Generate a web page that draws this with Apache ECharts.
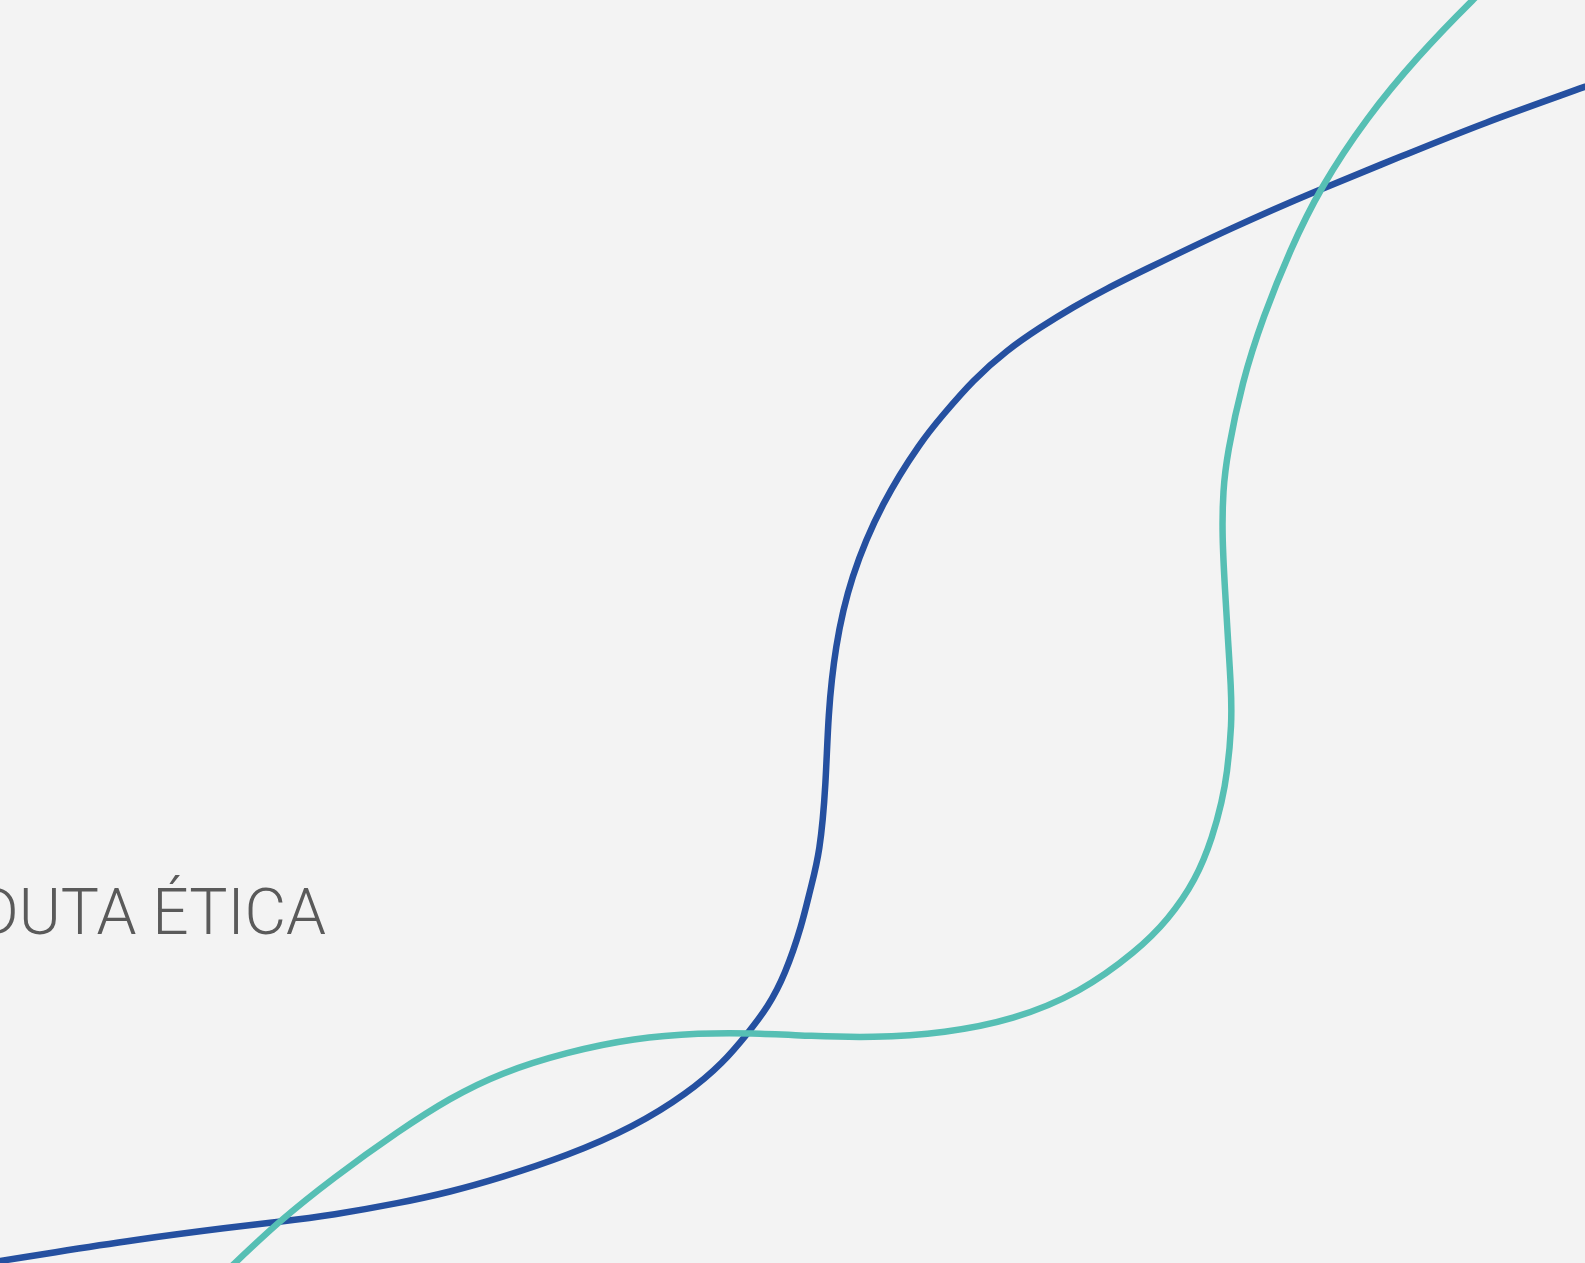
<!DOCTYPE html>
<html>
<head>
<meta charset="utf-8">
<script src="https://cdn.jsdelivr.net/npm/echarts@6/dist/echarts.min.js"></script>
<style>
html,body{margin:0;padding:0;background:#f3f3f3;}
#chart{width:1585px;height:1263px;}
</style>
</head>
<body>
<div id="chart"></div>
<script>
// Curve samples (x, y in chart units, y axis pointing down)
var blueCurve = [
  [-160,1287],[-80,1274],[0,1261],[50,1253],[133,1240],[233,1227],[277,1222],
  [333,1215],[400,1203],[450,1192],[500,1178],[567,1156],[634,1127],[688,1093],
  [723,1063],[748,1033],[768,1007],[785,975],[802,925],[810,890],[820,853],
  [826,784],[828,715],[835,647],[850,578],[882,502],[922,440],[942,416],
  [973,380],[1007,350],[1040,327.5],[1073,307],[1107,288.5],[1140,272],[1233,227],
  [1318,190],[1400,157],[1483,123],[1585,87],[1680,52],[1780,15]
];
var greenCurve = [
  [130,1365],[180,1315],[235,1263],[277,1223],[333,1178],[400,1130],[450,1098],
  [500,1073],[567,1052],[634,1038],[701,1033],[750,1033],[812,1036],[871,1038],
  [946,1033],[1013,1020],[1080,993],[1137,951],[1168,920],[1196,880],[1213,836],
  [1222,801],[1227,775],[1232,724],[1231,686],[1228,640],[1225,590],[1222,535],
  [1223,490],[1227,455],[1242,382],[1263,317],[1290,250],[1320,188],[1367,117],
  [1417,57],[1472,0],[1530,-55],[1590,-110]
];
var titleText = 'CONDUTA ÉTICA';

// smooth stroke through the data points (uniform cubic B-spline -> Bezier)
function splinePath(pts) {
  var d = '';
  for (var i = 0; i + 3 < pts.length; i++) {
    var p0 = pts[i], p1 = pts[i + 1], p2 = pts[i + 2], p3 = pts[i + 3];
    var b0 = [(p0[0] + 4 * p1[0] + p2[0]) / 6, (p0[1] + 4 * p1[1] + p2[1]) / 6];
    var b1 = [(2 * p1[0] + p2[0]) / 3, (2 * p1[1] + p2[1]) / 3];
    var b2 = [(p1[0] + 2 * p2[0]) / 3, (p1[1] + 2 * p2[1]) / 3];
    var b3 = [(p1[0] + 4 * p2[0] + p3[0]) / 6, (p1[1] + 4 * p2[1] + p3[1]) / 6];
    if (i === 0) d += 'M' + b0[0] + ' ' + b0[1];
    d += 'C' + b1[0] + ' ' + b1[1] + ' ' + b2[0] + ' ' + b2[1] + ' ' + b3[0] + ' ' + b3[1];
  }
  return d;
}

function curveSeries(values, color, z) {
  return {
    type: 'custom',
    coordinateSystem: 'cartesian2d',
    data: values,
    encode: {x: 0, y: 1},
    clip: true,
    z: z,
    renderItem: function (params, api) {
      if (params.dataIndex !== 0) return null;
      var pts = values.map(function (v) { return api.coord(v); });
      return {
        type: 'path',
        shape: {pathData: splinePath(pts)},
        style: {stroke: color, lineWidth: 6.5, fill: 'none', lineCap: 'round', lineJoin: 'round'}
      };
    }
  };
}

var chart = echarts.init(document.getElementById('chart'));
chart.setOption({
  backgroundColor: '#f3f3f3',
  animation: false,
  grid: {left: 0, right: 0, top: 0, bottom: 0},
  xAxis: {type: 'value', min: 0, max: 1585, show: false},
  yAxis: {type: 'value', min: 0, max: 1263, inverse: true, show: false},
  graphic: [{
    type: 'text',
    style: {
      text: titleText,
      x: 326, y: 950,
      textAlign: 'right',
      textVerticalAlign: 'bottom',
      font: '300 64px Roboto',
      fill: '#5a5a5a'
    },
    z: 1
  }],
  series: [
    curveSeries(blueCurve, '#2550a0', 2),
    curveSeries(greenCurve, '#56bfb4', 3)
  ]
});
</script>
</body>
</html>
